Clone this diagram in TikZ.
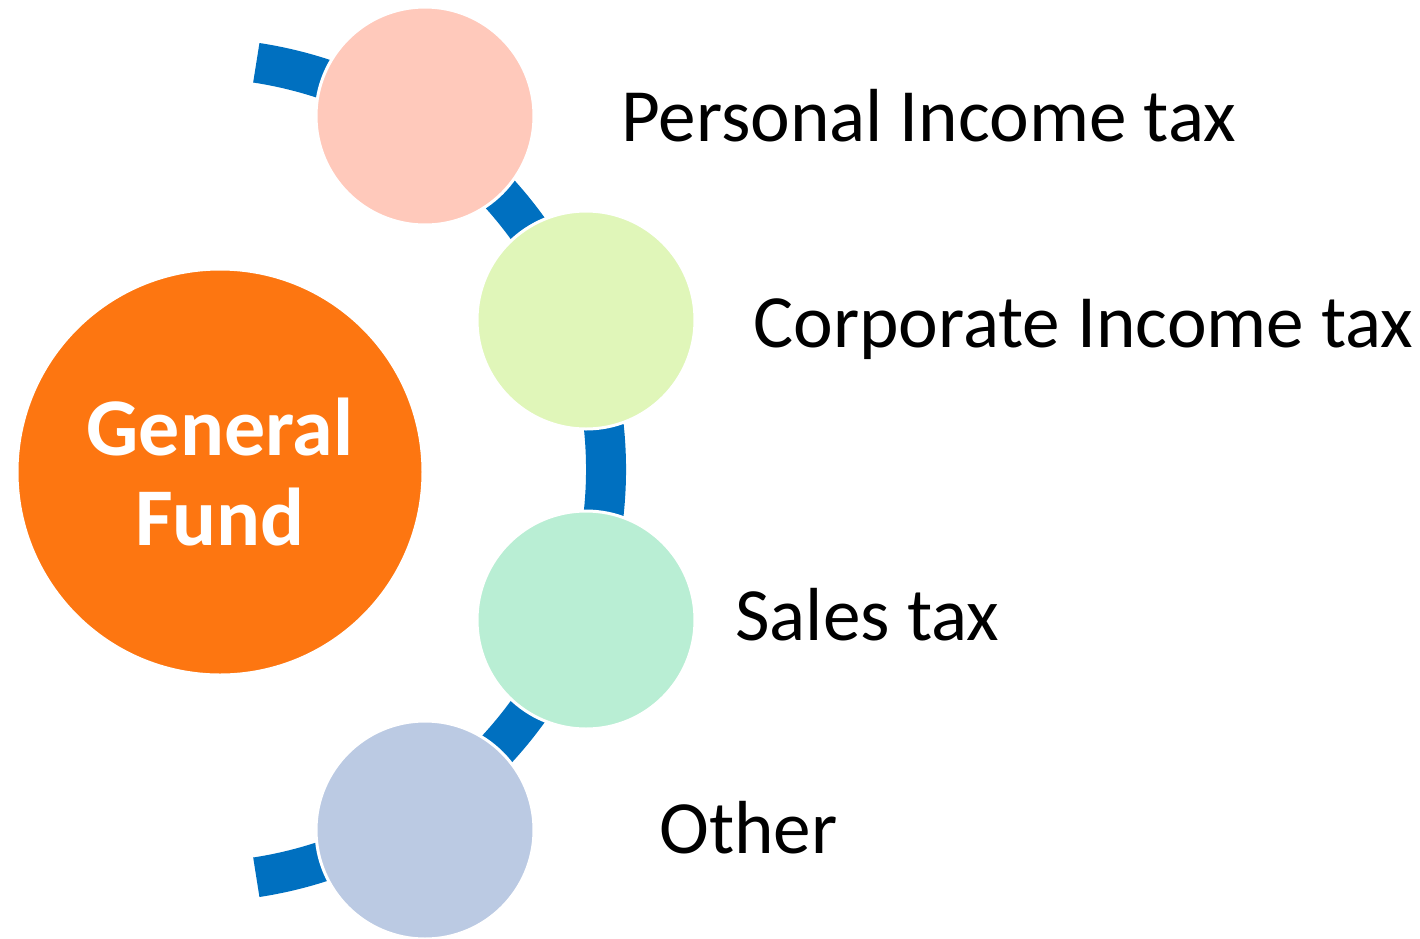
\documentclass[tikz,border=0pt]{standalone}
\usepackage{fontspec}
\setmainfont{Carlito}
\usetikzlibrary{calc,positioning}
\definecolor{railblue}{RGB}{0,112,192}
\definecolor{fundorange}{RGB}{253,118,17}
\definecolor{pinkball}{RGB}{255,201,187}
\definecolor{limeball}{RGB}{224,246,185}
\definecolor{mintball}{RGB}{185,238,212}
\definecolor{slateball}{RGB}{187,202,227}
\tikzset{
	fundball/.style={
		circle,
		fill=fundorange,
		draw=white, line width=1.5pt,
		minimum size=203pt,
		inner sep=0pt,
		text=white,
		align=center,
		font=\fontsize{41}{45}\selectfont\bfseries},
	taxball/.style={
		circle,
		draw=white, line width=1.5pt,
		minimum size=109pt,
		inner sep=0pt},
	rail/.style={draw=railblue, line width=20pt},
	taxlabel/.style={
		anchor=base west,
		inner sep=0pt,
		font=\fontsize{37.6}{40}\selectfont},
}

\begin{document}
\begin{tikzpicture}[x=0.5pt, y=-0.5pt]
\useasboundingbox (0,0) rectangle (1420,938);
\coordinate (hub) at (194,470);
\draw[rail] ($(hub)+(-81.3:412)$) arc[start angle=-81.3, end angle=81.3, radius=412];

\node[fundball] (fund) at (220,472) {General\\Fund};
\node[taxball, fill=pinkball] (pit) at (425,116) {};
\node[taxball, fill=limeball] (cit) at (586,320) {};
\node[taxball, fill=mintball] (sales) at (586,620) {};
\node[taxball, fill=slateball] (other) at (425,830) {};

\node[taxlabel] (pitlabel) at (621,141) {Personal Income tax};
\node[taxlabel] (citlabel) at (753,347) {Corporate Income tax};
\node[taxlabel] (saleslabel) at (735,640) {Sales tax};
\node[taxlabel] (otherlabel) at (659,853) {Other};
\end{tikzpicture}
\end{document}
